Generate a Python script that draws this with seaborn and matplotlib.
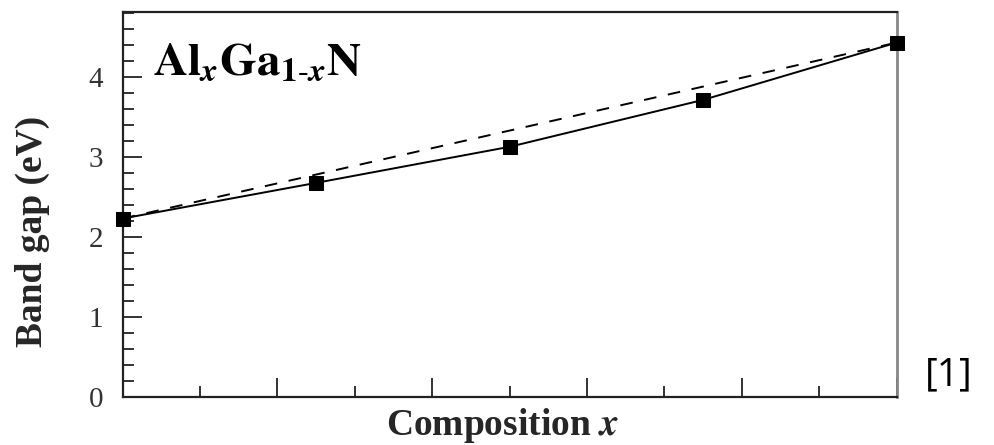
import numpy as np
import pandas as pd
import matplotlib
matplotlib.use("Agg")
import matplotlib.pyplot as plt
import seaborn as sns
from matplotlib.ticker import MultipleLocator, NullFormatter

# Data
composition = [0.0, 0.25, 0.5, 0.75, 1.0]
band_gap = [2.23, 2.675, 3.125, 3.71, 4.425]
linear_x = [0.0, 1.0]
linear_gap = [2.23, 4.425]
y_tick_values = [0, 1, 2, 3, 4]

sns.set_theme(style="ticks")
plt.rcParams["font.family"] = ["Liberation Serif", "DejaVu Serif"]
plt.rcParams["mathtext.fontset"] = "stix"

fig = plt.figure(figsize=(9.94, 4.45), dpi=100)
ax = fig.add_axes([0.1234, 0.1072, 0.7787, 0.8665])

df_calc = pd.DataFrame({"x": composition, "gap": band_gap})
df_lin = pd.DataFrame({"x": linear_x, "gap": linear_gap})

sns.lineplot(data=df_lin, x="x", y="gap", ax=ax, color="black", lw=1.4,
             linestyle=(0, (6.5, 6)))
sns.lineplot(data=df_calc, x="x", y="gap", ax=ax, color="black", lw=1.4,
             marker="s", markersize=9.5, markeredgecolor="black",
             markerfacecolor="black", clip_on=False, zorder=5)

ax.set_xlim(0, 1)
ax.set_ylim(0, 4.81)
ax.xaxis.set_major_locator(MultipleLocator(0.2))
ax.xaxis.set_minor_locator(MultipleLocator(0.1))
ax.xaxis.set_major_formatter(NullFormatter())
ax.set_yticks(y_tick_values)
ax.set_yticklabels([str(v) for v in y_tick_values])
ax.yaxis.set_minor_locator(MultipleLocator(0.2))

ax.tick_params(which="major", direction="in", length=14, width=1.3,
               labelsize=21, pad=14, color="#222222", labelcolor="#333333")
ax.tick_params(which="minor", direction="in", length=8, width=1.3,
               color="#222222")
ax.tick_params(top=False, right=False, which="both")

for side in ["left", "bottom", "top"]:
    ax.spines[side].set_linewidth(1.6)
    ax.spines[side].set_color("#222222")
ax.spines["right"].set_linewidth(2.0)
ax.spines["right"].set_color("#888888")

ax.set_ylabel("Band gap (eV)", fontsize=27, fontweight="bold")
ax.yaxis.set_label_coords(-0.094, 0.43)
ax.set_xlabel(r"Composition $\mathbfit{x}$", fontsize=27, fontweight="bold")
ax.xaxis.set_label_coords(0.491, -0.022)

ax.text(0.039, 0.836,
        r"$\mathbf{Al}_{\mathbfit{x}}\mathbf{Ga}_{\mathbf{1}\text{-}\mathbfit{x}}\mathbf{N}$",
        transform=ax.transAxes, fontsize=34, va="baseline", ha="left",
        color="black")

fig.text(925 / 994, 0.135, "[1]", fontsize=28, family=["Open Sans", "DejaVu Sans"],
         ha="left", va="baseline", color="black")

fig.savefig("out.png", dpi=100)
